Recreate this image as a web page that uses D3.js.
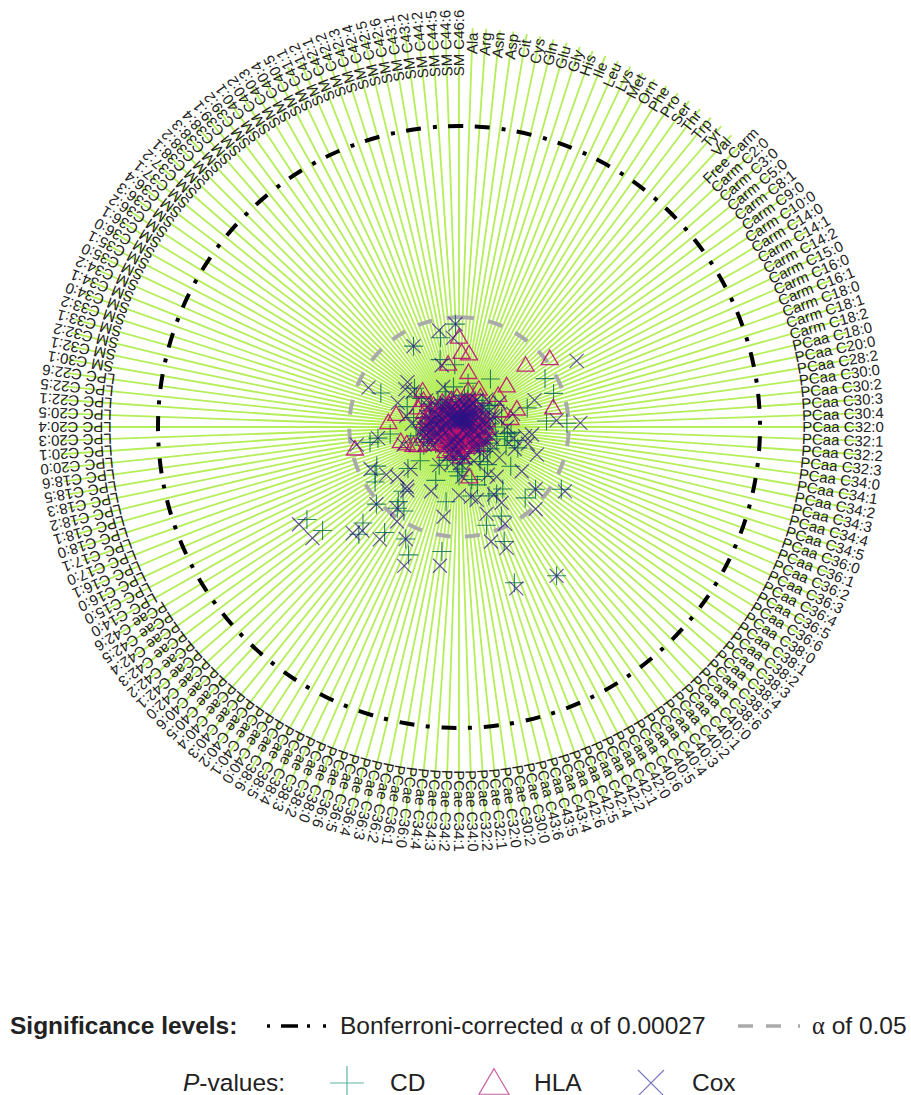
<!DOCTYPE html>
<html>
<head>
<meta charset="utf-8">
<script src="https://cdn.jsdelivr.net/npm/d3@7"></script>
<style>
body { margin: 0; background: #fff; }
text { font-family: "Liberation Sans", Arial, sans-serif; fill: #222; }
</style>
</head>
<body>
<div id="chart"></div>
<script>
var aminoAcids = ["Ala","Arg","Asn","Asp","Cit","Cys","Gln","Glu","Gly","His","Ile","Leu","Lys","Met","Orn","Phe","Pro","Ser","Thr","Trp","Tyr","Val"];
var carnitines = ["Free Carm","Carm C2:0","Carm C3:0","Carm C5:0","Carm C8:1","Carm C9:0","Carm C10:0","Carm C14:0","Carm C14:1","Carm C14:2","Carm C15:0","Carm C16:0","Carm C16:1","Carm C18:0","Carm C18:1","Carm C18:2"];
var pcaa = ["C18:0","C20:0","C28:2","C30:0","C30:2","C30:3","C30:4","C32:0","C32:1","C32:2","C32:3","C34:0","C34:1","C34:2","C34:3","C34:4","C34:5","C36:0","C36:1","C36:2","C36:3","C36:4","C36:5","C36:6","C38:0","C38:1","C38:2","C38:3","C38:4","C38:5","C38:6","C40:0","C40:1","C40:2","C40:3","C40:4","C40:5","C40:6","C42:0","C42:1","C42:2","C42:4","C42:5","C42:6","C43:4","C43:5","C43:6"];
var pcae = ["C30:0","C30:2","C32:0","C32:1","C32:2","C34:0","C34:1","C34:2","C34:3","C34:4","C36:0","C36:1","C36:2","C36:3","C36:4","C36:5","C36:6","C38:0","C38:2","C38:3","C38:4","C38:5","C38:6","C40:0","C40:1","C40:2","C40:3","C40:4","C40:5","C40:6","C42:0","C42:1","C42:2","C42:3","C42:4","C42:5","C42:6"];
var lpc = ["C14:0","C15:0","C16:0","C16:1","C17:0","C17:1","C18:0","C18:1","C18:2","C18:3","C18:5","C18:6","C20:0","C20:1","C20:3","C20:4","C20:5","C22:1","C22:5","C22:6"];
var sm = ["C30:1","C32:1","C32:2","C33:1","C33:2","C34:0","C34:1","C34:2","C35:0","C35:1","C36:0","C36:1","C36:2","C36:3","C36:4","C37:1","C37:2","C38:1","C38:2","C38:3","C38:4","C39:1","C39:2","C40:1","C40:2","C40:3","C40:4","C40:5","C41:1","C41:2","C42:1","C42:2","C42:3","C42:4","C42:5","C42:6","C43:1","C43:2","C44:2","C44:5","C44:6","C46:6"];

var metabolites = aminoAcids.concat(carnitines,
    pcaa.map(function(d) { return "PCaa " + d; }),
    pcae.map(function(d) { return "PCae " + d; }),
    lpc.map(function(d) { return "LPC " + d; }),
    sm.map(function(d) { return "SM " + d; }));

// -log10(p) for each metabolite, same order as above
var cdValues = [
    .20,.11,.30,.16,.38,.53,.09,.25,.34,.13,.19,.42,.06,.28,.23,.37,.68,.15,.10,.31,.22,.17,
    .40,.26,.12,.35,.20,.44,.14,.50,1.17,.24,.38,.09,.29,1.19,.33,.84,
    .52,.18,.27,.11,.36,1.04,1.28,.43,.16,.31,.62,.58,.22,.55,.68,.13,.47,.74,.60,.19,.34,.10,.39,1.42,.26,.45,.77,1.17,.15,.29,.41,1.15,.37,.21,.56,.90,2.11,.48,.91,.66,1.17,.89,1.46,1.96,.72,1.21,.64,
    .32,.83,.24,.44,.50,.35,.58,.53,.18,.27,1.49,.90,.36,.08,.30,.20,.42,1.63,.69,1.47,.51,.26,.12,1.19,1.53,1.21,1.14,1.01,1.74,1.61,1.34,.61,.78,2.03,.34,1.19,2.11,
    1.14,.47,1.08,.28,.40,.16,.60,.33,.22,.52,1.07,.97,.82,.37,.25,.46,.19,.44,.30,.12,
    .35,.55,.21,.42,.15,.37,.66,1.01,.29,.18,.40,.11,.34,.62,.56,.43,.70,.24,.31,.13,.38,.20,.08,.33,.16,.27,1.10,.23,.36,.10,.45,.19,.30,.83,.14,1.08,.25,.48,.12,.74,1.22,.28
];
var hlaValues = [
    .89,.21,.12,.88,.66,.27,.45,.15,.33,.08,.19,.28,.10,.51,.24,.06,.31,.44,.13,.20,.09,.26,
    .17,1.08,.75,.60,1.35,.22,.11,.30,.14,.25,.07,.19,.53,.28,.72,.16,
    .34,1.14,.62,.12,.23,.09,.30,.18,.33,.07,.20,.28,.11,.25,.15,.31,.06,.19,.26,.10,.29,.14,.22,.08,.27,.17,.12,.24,.05,.20,.30,.13,.09,.23,.16,.07,.26,.11,.19,.06,.21,.14,.10,.25,.08,.18,.12,
    .60,.22,.09,.30,.35,.11,.26,.18,.07,.31,.13,.20,.10,.24,.06,.17,.28,.12,.08,.21,.15,.33,.05,.19,.10,.27,.14,.07,.23,.16,.11,.29,.09,.20,.25,.36,.13,
    .30,.43,.18,.54,.58,.22,.65,.38,.71,1.26,.16,.34,.25,.10,.40,.28,.14,.84,.35,.20,
    .42,.76,.31,.12,.38,.24,.16,.45,.54,.09,.30,.20,.37,.13,.53,.27,.40,.11,.61,.18,.33,.07,.26,.15,.36,.10,.22,.29,.06,.31,.17,.25,.09,.34,.12,.28,.76,.19,.08,.36,.23,1.07
];
var coxValues = [
    .15,.08,.22,.31,.12,.05,.27,.18,.09,.34,.11,.24,.07,.29,.16,.33,.38,.13,.21,.10,.26,.14,
    .46,.19,.31,.08,.37,.15,.24,.56,1.60,.27,.12,.35,.21,.95,.42,.46,
    .66,.28,.14,.33,.09,1.16,1.44,.57,.23,.36,.87,.79,.30,.66,.84,.18,.41,.98,.71,.25,.12,.34,.47,1.47,.35,.91,.60,1.17,.22,.13,.36,1.33,.48,.28,.74,.31,2.11,.66,1.03,.90,1.27,.44,1.54,2.03,1.08,1.41,.89,
    .38,.84,.36,.17,.59,.43,.81,.20,.32,.30,1.66,1.08,.44,.11,.23,.16,.34,1.77,.83,1.47,.51,.19,.28,1.34,1.63,1.21,.97,.94,1.68,1.78,1.34,.76,.94,2.18,.38,1.03,2.22,
    .24,.46,1.16,.31,.18,.37,.69,.27,.40,.46,1.23,.97,.33,.21,.42,.38,.15,.56,.29,.36,
    .25,.64,.32,.17,.41,.28,.78,1.17,.22,.35,.13,.30,.44,.78,.69,.50,.81,.38,.19,.26,.09,.33,.14,.23,.07,.29,1.10,.32,.12,.20,.51,.06,.25,.76,.16,1.17,.10,.28,.08,1.06,1.22,.32
];
if (cdValues.length != metabolites.length || hlaValues.length != metabolites.length || coxValues.length != metabolites.length) {
    throw "length mismatch " + metabolites.length + " " + cdValues.length + " " + hlaValues.length + " " + coxValues.length;
}

var alphaLevels = [0.05, 0.00027];

var width = 911,
    height = 1095,
    cx = 459,
    cy = 427,
    spokeEnd = 399,
    labelRadius = 384;

var svg = d3.select("#chart")
    .append("svg")
    .attr("width", width)
    .attr("height", height)
    .style("display", "block");

// radial scale: the Bonferroni circle sits at 301px
var r = d3.scaleLinear()
    .domain([0, -Math.log10(0.00027)])
    .range([0, 301]);
// first spoke is one step past north, going clockwise, last one is back at north
var angle = d3.scaleLinear()
    .domain([0, metabolites.length])
    .range([0, 2 * Math.PI]);

var plot = svg.append("g")
    .attr("transform", "translate(" + cx + "," + cy + ")");

function px(i, radius) { return radius * Math.sin(angle(i + 1)); }
function py(i, radius) { return -radius * Math.cos(angle(i + 1)); }

// spokes
plot.append("g").selectAll("line")
    .data(metabolites)
    .enter().append("line")
    .attr("x1", 0)
    .attr("y1", 0)
    .attr("x2", function(d, i) { return px(i, spokeEnd); })
    .attr("y2", function(d, i) { return py(i, spokeEnd); })
    .attr("stroke", "#b4ee58")
    .attr("stroke-width", 1.8);

// labels, centred on the ring and rotated with the spoke
plot.append("g").selectAll("text")
    .data(metabolites)
    .enter().append("text")
    .attr("text-anchor", "middle")
    .attr("dy", "0.36em")
    .attr("font-size", 15)
    .attr("transform", function(d, i) {
        return "translate(" + px(i, labelRadius) + "," + py(i, labelRadius) + ") rotate(" + (angle(i + 1) * 180 / Math.PI - 90) + ")";
    })
    .text(function(d) { return d; });

// significance circles
plot.append("circle")
    .attr("r", r(-Math.log10(alphaLevels[0])))
    .attr("fill", "none")
    .attr("stroke", "#aaaaaa")
    .attr("stroke-width", 4)
    .attr("stroke-dasharray", "15 14.4")
    .attr("transform", "rotate(-90)");
plot.append("circle")
    .attr("r", r(-Math.log10(alphaLevels[1])))
    .attr("fill", "none")
    .attr("stroke", "#000")
    .attr("stroke-width", 4)
    .attr("stroke-dasharray", "15 12 4 11.36")
    .attr("transform", "rotate(-87)");

// stroked symbols, size is the half width
var plusSymbol = {draw: function(ctx, s) {
    ctx.moveTo(-s, 0); ctx.lineTo(s, 0);
    ctx.moveTo(0, -s); ctx.lineTo(0, s);
}};
var timesSymbol = {draw: function(ctx, s) {
    ctx.moveTo(-s, -s); ctx.lineTo(s, s);
    ctx.moveTo(-s, s); ctx.lineTo(s, -s);
}};
var triangleSymbol = {draw: function(ctx, s) {
    ctx.moveTo(0, -s * 0.95); ctx.lineTo(s, s * 0.75); ctx.lineTo(-s, s * 0.75); ctx.closePath();
}};

function drawSeries(values, symbolType, size, color, lineWidth) {
    plot.append("g").selectAll("path")
        .data(values)
        .enter().append("path")
        .attr("transform", function(d, i) {
            return "translate(" + px(i, r(d)) + "," + py(i, r(d)) + ")";
        })
        .attr("d", d3.symbol().type(symbolType).size(size))
        .attr("fill", "none")
        .attr("stroke", color)
        .attr("stroke-width", lineWidth);
}
drawSeries(cdValues, plusSymbol, 9.5, "rgba(0,100,80,0.8)", 1.1);
drawSeries(hlaValues, triangleSymbol, 8.5, "rgba(190,20,110,0.9)", 1.3);
drawSeries(coxValues, timesSymbol, 7, "rgba(45,20,135,0.72)", 1.2);

// legend
var legend = svg.append("g");
var legendSize = 24.5;

legend.append("text")
    .attr("x", 10)
    .attr("y", 1034)
    .attr("font-size", legendSize)
    .attr("font-weight", "bold")
    .text("Significance levels:");
legend.append("line")
    .attr("x1", 267).attr("x2", 328)
    .attr("y1", 1026).attr("y2", 1026)
    .attr("stroke", "#000")
    .attr("stroke-width", 3.5)
    .attr("stroke-dasharray", "3 11 17 9 3 13 3");
var bonf = legend.append("text")
    .attr("x", 340)
    .attr("y", 1034)
    .attr("font-size", legendSize);
bonf.append("tspan").text("Bonferroni-corrected ");
bonf.append("tspan").style("font-family", "'Liberation Serif', serif").text("\u03B1");
bonf.append("tspan").text(" of 0.00027");
legend.append("line")
    .attr("x1", 738).attr("x2", 800)
    .attr("y1", 1026).attr("y2", 1026)
    .attr("stroke", "#aaaaaa")
    .attr("stroke-width", 3.5)
    .attr("stroke-dasharray", "15 13 15 17 2");
var sig = legend.append("text")
    .attr("x", 812)
    .attr("y", 1034)
    .attr("font-size", legendSize);
sig.append("tspan").style("font-family", "'Liberation Serif', serif").text("\u03B1");
sig.append("tspan").text(" of 0.05");

var pLabel = legend.append("text")
    .attr("x", 183)
    .attr("y", 1091)
    .attr("font-size", legendSize);
pLabel.append("tspan").style("font-style", "italic").text("P");
pLabel.append("tspan").text("-values:");

var legendItems = [
    {name: "CD", sym: plusSymbol, size: 17, color: "#5fb3a3", sx: 347, tx: 390},
    {name: "HLA", sym: triangleSymbol, size: 15, color: "#cc5ca0", sx: 494, tx: 534},
    {name: "Cox", sym: timesSymbol, size: 13, color: "#7a7abf", sx: 651, tx: 692}
];
legendItems.forEach(function(d) {
    legend.append("path")
        .attr("transform", "translate(" + d.sx + ",1083)")
        .attr("d", d3.symbol().type(d.sym).size(d.size))
        .attr("fill", "none")
        .attr("stroke", d.color)
        .attr("stroke-width", 1.2);
    legend.append("text")
        .attr("x", d.tx)
        .attr("y", 1091)
        .attr("font-size", legendSize)
        .text(d.name);
});
</script>
</body>
</html>
